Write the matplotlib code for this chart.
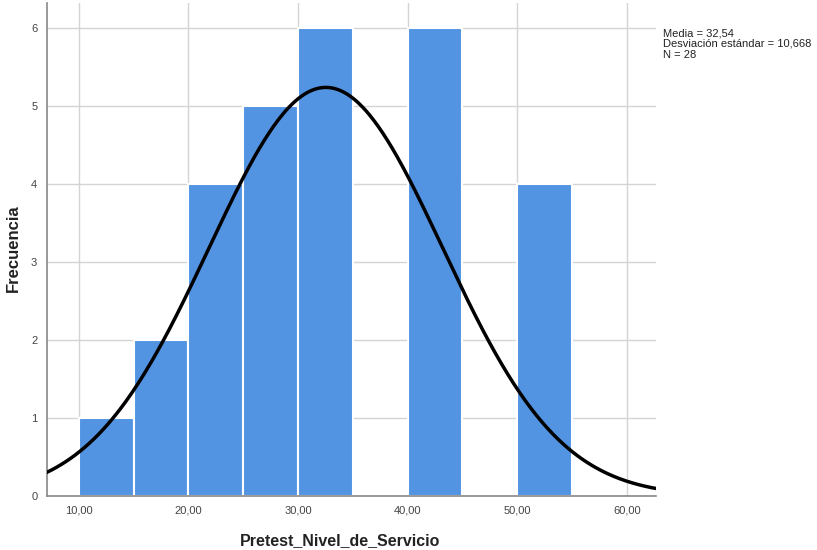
import numpy as np
import matplotlib.pyplot as plt

plt.rcParams["font.family"] = ["Liberation Sans", "DejaVu Sans"]

# frecuencias por intervalo de 5 puntos
bin_edges = [10, 15, 20, 25, 30, 35, 40, 45, 50, 55]
frecuencias = [1, 2, 4, 5, 6, 0, 6, 0, 4]
media = 32.54
desv = 10.668
n = 28
x_ticks = [10, 20, 30, 40, 50, 60]
x_tick_labels = ["10,00", "20,00", "30,00", "40,00", "50,00", "60,00"]
y_ticks = [0, 1, 2, 3, 4, 5, 6]

fig = plt.figure(figsize=(8.17, 5.5), dpi=100)
ax = fig.add_axes([0.0575, 0.098, 0.746, 0.897])

ancho = np.diff(bin_edges)
ax.bar(bin_edges[:-1], frecuencias, width=ancho, align="edge",
       color="#5294E2", edgecolor="white", linewidth=1.5, zorder=2)

# curva normal escalada a frecuencias
xs = np.linspace(7, 63, 400)
ys = n * 5 / (desv * np.sqrt(2 * np.pi)) * np.exp(-0.5 * ((xs - media) / desv) ** 2)
ax.plot(xs, ys, color="black", linewidth=2.5, zorder=3)

ax.set_xlim(7.1, 62.7)
ax.set_ylim(0, 6.32)
ax.set_xticks(x_ticks)
ax.set_xticklabels(x_tick_labels)
ax.set_yticks(y_ticks)
ax.grid(True, color="#d4d4d4", linewidth=1, zorder=0)
ax.set_axisbelow(True)
for s in ["top", "right"]:
    ax.spines[s].set_visible(False)
for s in ["left", "bottom"]:
    ax.spines[s].set_color("#888888")
    ax.spines[s].set_linewidth(1.2)
ax.tick_params(axis="both", length=0, labelsize=8, labelcolor="#444444", pad=7)

# títulos de ejes colocados a mano
fig.text(13 / 817, 1 - 248 / 550, "Frecuencia", rotation=90,
         fontsize=12, fontweight="bold", ha="center", va="center", color="#222222")
fig.text(340 / 817, 1 - 541 / 550, "Pretest_Nivel_de_Servicio",
         fontsize=11.5, fontweight="bold", ha="center", va="center", color="#222222")

fig.text(663 / 817, 1 - 28 / 550,
         "Media = 32,54\nDesviación estándar = 10,668\nN = 28",
         fontsize=8, va="top", ha="left", color="#222222", linespacing=1.12)

fig.savefig("out.png", dpi=100)
